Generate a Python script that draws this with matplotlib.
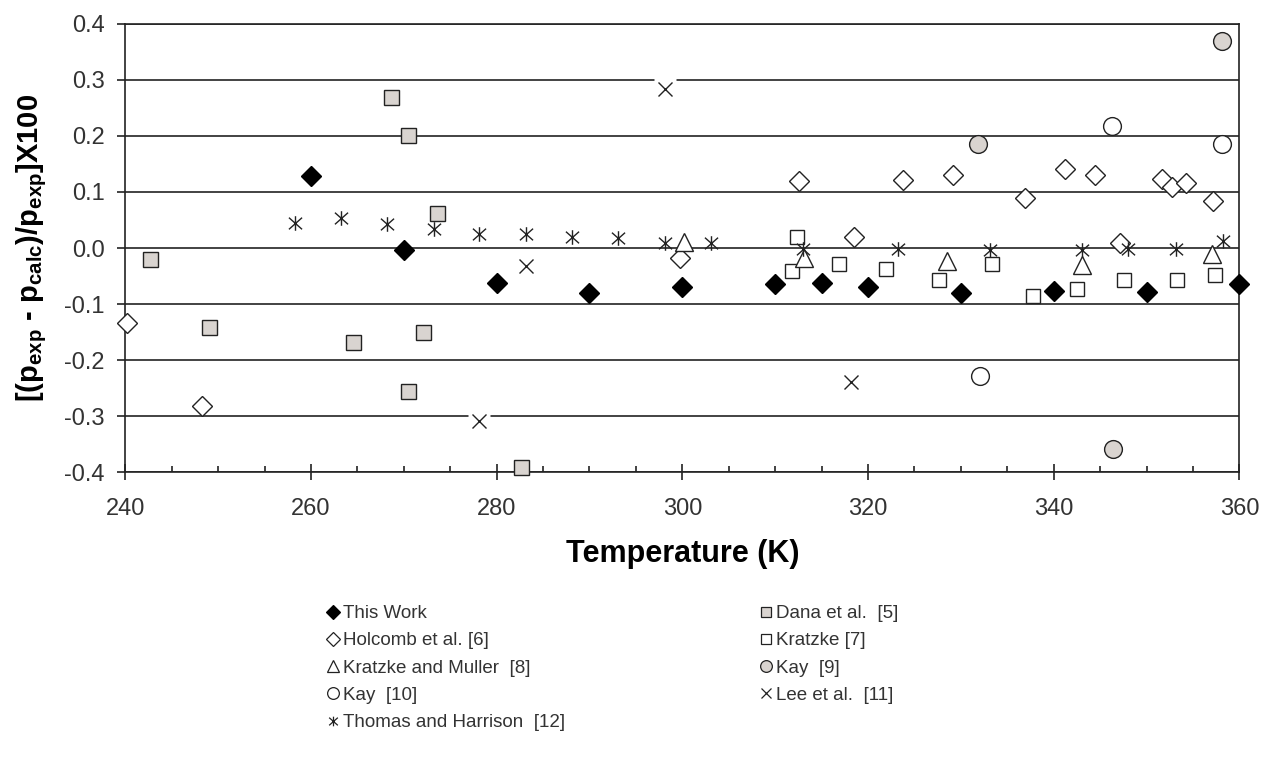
import matplotlib

matplotlib.use("Agg")
import matplotlib.pyplot as plt
from matplotlib.lines import Line2D
from matplotlib.path import Path
from matplotlib.ticker import FixedLocator, FuncFormatter, MultipleLocator

# data (T in K, deviation in %)
this_work_T = [260, 270, 280, 290, 300, 310, 315, 320, 330, 340, 350, 360]
this_work_d = [0.128, -0.004, -0.062, -0.081, -0.069, -0.065, -0.062, -0.069, -0.080, -0.076, -0.079, -0.065]

dana_T = [242.7, 249.0, 264.5, 268.6, 270.4, 270.4, 272.1, 273.6, 282.6]
dana_d = [-0.019, -0.141, -0.168, 0.270, 0.201, -0.256, -0.150, 0.063, -0.391]

holcomb_T = [240.2, 248.3, 299.8, 312.6, 318.5, 323.8, 329.1, 336.9, 341.2, 344.4, 347.1, 351.7, 352.7, 354.3, 357.2]
holcomb_d = [-0.134, -0.283, -0.018, 0.119, 0.020, 0.122, 0.131, 0.090, 0.141, 0.131, 0.009, 0.124, 0.109, 0.116, 0.084]

kratzke_T = [311.8, 312.3, 316.9, 321.9, 327.6, 333.4, 337.8, 342.5, 347.6, 353.3, 357.4]
kratzke_d = [-0.041, 0.019, -0.028, -0.038, -0.058, -0.028, -0.086, -0.074, -0.058, -0.058, -0.049]

km_T = [300.2, 313.1, 328.5, 343.1, 357.0]
km_d = [0.010, -0.018, -0.024, -0.031, -0.010]

kay9_T = [331.9, 346.4, 358.1]
kay9_d = [0.185, -0.359, 0.369]

kay10_T = [332.1, 346.3, 358.1]
kay10_d = [-0.229, 0.217, 0.185]

lee_T = [278.1, 283.2, 298.1, 318.2]
lee_d = [-0.309, -0.033, 0.284, -0.239]

thomas_T = [258.3, 263.2, 268.2, 273.2, 278.1, 283.2, 288.1, 293.1, 298.1, 303.1,
            313.0, 323.2, 333.1, 343.1, 348.0, 353.2, 358.2]
thomas_d = [0.045, 0.053, 0.042, 0.034, 0.025, 0.025, 0.020, 0.017, 0.009, 0.009,
            -0.001, -0.001, -0.004, -0.004, -0.001, -0.001, 0.012]

y_ticks = [-0.4, -0.3, -0.2, -0.1, 0.0, 0.1, 0.2, 0.3, 0.4]
x_ticks = [240, 260, 280, 300, 320, 340, 360]

GRAY = "#d9d4d0"
INK = "#222222"
TEXT = "#333333"

# excel-style asterisk: vertical bar plus an x
ASTERISK = Path(
    [(0, -1), (0, 1), (-0.9, -0.8), (0.9, 0.8), (-0.9, 0.8), (0.9, -0.8)],
    [Path.MOVETO, Path.LINETO, Path.MOVETO, Path.LINETO, Path.MOVETO, Path.LINETO],
)

plt.rcParams.update(
    {
        "font.family": ["Liberation Sans", "DejaVu Sans"],
        "mathtext.fontset": "custom",
        "mathtext.rm": "Liberation Sans",
        "mathtext.bf": "Liberation Sans:bold",
        "mathtext.default": "bf",
        "axes.unicode_minus": False,
    }
)

fig = plt.figure(figsize=(12.63, 7.59), dpi=100)
ax = fig.add_axes([0.0992, 0.3781, 0.8821, 0.5903])

series = [
    # label, T, d, marker, size, face, edge
    ("This Work", this_work_T, this_work_d, "D", 10.4, "black", "black"),
    ("Dana et al.  [5]", dana_T, dana_d, "s", 10.8, GRAY, INK),
    ("Holcomb et al. [6]", holcomb_T, holcomb_d, "D", 10.4, "white", INK),
    ("Kratzke [7]", kratzke_T, kratzke_d, "s", 10.6, "white", INK),
    ("Kratzke and Muller  [8]", km_T, km_d, "^", 13.5, "white", INK),
    ("Kay  [9]", kay9_T, kay9_d, "o", 12.8, GRAY, INK),
    ("Kay  [10]", kay10_T, kay10_d, "o", 12.8, "white", INK),
    ("Lee et al.  [11]", lee_T, lee_d, "x", 10.0, "white", INK),
    ("Thomas and Harrison  [12]", thomas_T, thomas_d, ASTERISK, 10.5, "white", INK),
]

handles = {}
for label, T, d, marker, size, face, edge in series:
    if marker == "x":
        # excel paints a white box behind the cross, cutting the gridlines
        ax.plot(T, d, ls="none", marker="s", ms=15.5, mfc="white", mec="none", zorder=2.5, clip_on=False)
    ax.plot(T, d, ls="none", marker=marker, ms=size, mfc=face, mec=edge, mew=1.0, zorder=3, clip_on=False)
    handles[label] = Line2D([], [], ls="none", marker=marker, ms=size * 0.66, mfc=face, mec=edge, mew=0.9)

ax.set_xlim(240, 360)
ax.set_ylim(-0.4, 0.4)
ax.xaxis.set_major_locator(FixedLocator(x_ticks))
ax.xaxis.set_minor_locator(MultipleLocator(5))
ax.yaxis.set_major_locator(FixedLocator(y_ticks))
ax.yaxis.set_major_formatter(FuncFormatter(lambda v, _: f"{v:.1f}"))

ax.grid(axis="y", color=INK, lw=1.2, zorder=1)
ax.set_axisbelow(True)
for side in ["left", "bottom", "right", "top"]:
    ax.spines[side].set_color(INK)
    ax.spines[side].set_linewidth(1.2)

ax.tick_params(axis="x", which="major", direction="inout", length=11, width=1.2, color=INK,
               labelsize=17, labelcolor=TEXT, pad=13)
ax.tick_params(axis="x", which="minor", direction="in", length=4, width=1.2, color=INK)
ax.tick_params(axis="y", which="major", direction="out", length=6, width=1.2, color=INK,
               labelsize=17, labelcolor=TEXT, pad=9)

ax.set_xlabel("Temperature (K)", fontsize=22, fontweight="bold", color="black", labelpad=14)
ax.set_ylabel(r"[(p$_{exp}$ - p$_{calc}$)/p$_{exp}$]X100", fontsize=21, fontweight="bold",
              color="black", labelpad=11)

left_labels = ["This Work", "Holcomb et al. [6]", "Kratzke and Muller  [8]", "Kay  [10]",
               "Thomas and Harrison  [12]"]
right_labels = ["Dana et al.  [5]", "Kratzke [7]", "Kay  [9]", "Lee et al.  [11]"]

legend_style = dict(frameon=False, fontsize=13.5, handlelength=0.7, handletextpad=0.2,
                    labelspacing=0.54, borderaxespad=0, borderpad=0, labelcolor=TEXT)
fig.legend([handles[k] for k in left_labels], left_labels, loc="upper left",
           bbox_to_anchor=(326 / 1263, 1 - 605 / 759), **legend_style)
fig.legend([handles[k] for k in right_labels], right_labels, loc="upper left",
           bbox_to_anchor=(759 / 1263, 1 - 605 / 759), **legend_style)

fig.savefig("out.png", dpi=100)
